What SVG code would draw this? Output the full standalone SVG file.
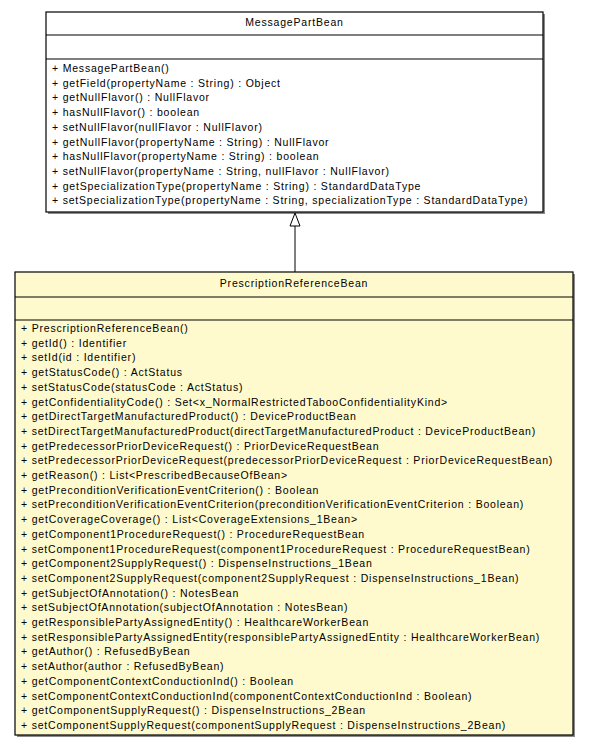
<svg xmlns="http://www.w3.org/2000/svg" width="589" height="749" viewBox="0 0 589 749">
<style>
text{font-family:"Liberation Sans",Arial,Helvetica,sans-serif;font-size:10.5px;fill:#000;letter-spacing:0.8px}
.t{text-anchor:middle}
.box{stroke:#000;stroke-width:1.2}
.shadow{fill:#8a8a8a}
.sep{stroke:#000;stroke-width:1.2}
.conn{stroke:#000;stroke-width:1;fill:none}
.head{stroke:#000;stroke-width:1;fill:#fff}
</style>
<rect width="589" height="749" fill="#fff"/>
<g id="MessagePartBean">
<rect class="shadow" x="48" y="14" width="497" height="200"/>
<rect class="box" x="46" y="12" width="497" height="200" fill="#fff"/>
<line class="sep" x1="46" y1="35" x2="543" y2="35"/>
<line class="sep" x1="46" y1="59" x2="543" y2="59"/>
<text class="t" x="294.5" y="26">MessagePartBean</text>
<text x="52" y="72">+ MessagePartBean()</text>
<text x="52" y="86.7">+ getField(propertyName : String) : Object</text>
<text x="52" y="101.4">+ getNullFlavor() : NullFlavor</text>
<text x="52" y="116.1">+ hasNullFlavor() : boolean</text>
<text x="52" y="130.8">+ setNullFlavor(nullFlavor : NullFlavor)</text>
<text x="52" y="145.5">+ getNullFlavor(propertyName : String) : NullFlavor</text>
<text x="52" y="160.2">+ hasNullFlavor(propertyName : String) : boolean</text>
<text x="52" y="174.9">+ setNullFlavor(propertyName : String, nullFlavor : NullFlavor)</text>
<text x="52" y="189.6">+ getSpecializationType(propertyName : String) : StandardDataType</text>
<text x="52" y="204.3">+ setSpecializationType(propertyName : String, specializationType : StandardDataType)</text>
</g>
<g id="PrescriptionReferenceBean">
<rect class="shadow" x="17" y="274" width="558" height="463"/>
<rect class="box" x="15" y="272" width="558" height="463" fill="#fffacd"/>
<line class="sep" x1="15" y1="297" x2="573" y2="297"/>
<line class="sep" x1="15" y1="320" x2="573" y2="320"/>
<text class="t" x="294" y="287">PrescriptionReferenceBean</text>
<text x="21" y="332">+ PrescriptionReferenceBean()</text>
<text x="21" y="346.7">+ getId() : Identifier</text>
<text x="21" y="361.4">+ setId(id : Identifier)</text>
<text x="21" y="376.1">+ getStatusCode() : ActStatus</text>
<text x="21" y="390.8">+ setStatusCode(statusCode : ActStatus)</text>
<text x="21" y="405.5">+ getConfidentialityCode() : Set&lt;x_NormalRestrictedTabooConfidentialityKind&gt;</text>
<text x="21" y="420.2">+ getDirectTargetManufacturedProduct() : DeviceProductBean</text>
<text x="21" y="434.9">+ setDirectTargetManufacturedProduct(directTargetManufacturedProduct : DeviceProductBean)</text>
<text x="21" y="449.6">+ getPredecessorPriorDeviceRequest() : PriorDeviceRequestBean</text>
<text x="21" y="464.3">+ setPredecessorPriorDeviceRequest(predecessorPriorDeviceRequest : PriorDeviceRequestBean)</text>
<text x="21" y="479">+ getReason() : List&lt;PrescribedBecauseOfBean&gt;</text>
<text x="21" y="493.7">+ getPreconditionVerificationEventCriterion() : Boolean</text>
<text x="21" y="508.4">+ setPreconditionVerificationEventCriterion(preconditionVerificationEventCriterion : Boolean)</text>
<text x="21" y="523.1">+ getCoverageCoverage() : List&lt;CoverageExtensions_1Bean&gt;</text>
<text x="21" y="537.8">+ getComponent1ProcedureRequest() : ProcedureRequestBean</text>
<text x="21" y="552.5">+ setComponent1ProcedureRequest(component1ProcedureRequest : ProcedureRequestBean)</text>
<text x="21" y="567.2">+ getComponent2SupplyRequest() : DispenseInstructions_1Bean</text>
<text x="21" y="581.9">+ setComponent2SupplyRequest(component2SupplyRequest : DispenseInstructions_1Bean)</text>
<text x="21" y="596.6">+ getSubjectOfAnnotation() : NotesBean</text>
<text x="21" y="611.3">+ setSubjectOfAnnotation(subjectOfAnnotation : NotesBean)</text>
<text x="21" y="626">+ getResponsiblePartyAssignedEntity() : HealthcareWorkerBean</text>
<text x="21" y="640.7">+ setResponsiblePartyAssignedEntity(responsiblePartyAssignedEntity : HealthcareWorkerBean)</text>
<text x="21" y="655.4">+ getAuthor() : RefusedByBean</text>
<text x="21" y="670.1">+ setAuthor(author : RefusedByBean)</text>
<text x="21" y="684.8">+ getComponentContextConductionInd() : Boolean</text>
<text x="21" y="699.5">+ setComponentContextConductionInd(componentContextConductionInd : Boolean)</text>
<text x="21" y="714.2">+ getComponentSupplyRequest() : DispenseInstructions_2Bean</text>
<text x="21" y="728.9">+ setComponentSupplyRequest(componentSupplyRequest : DispenseInstructions_2Bean)</text>
</g>
<g id="connectors">
<line class="conn" x1="295" y1="226" x2="295" y2="272"/>
<polygon class="head" points="295,213 290,226 300,226"/>
</g>
</svg>
